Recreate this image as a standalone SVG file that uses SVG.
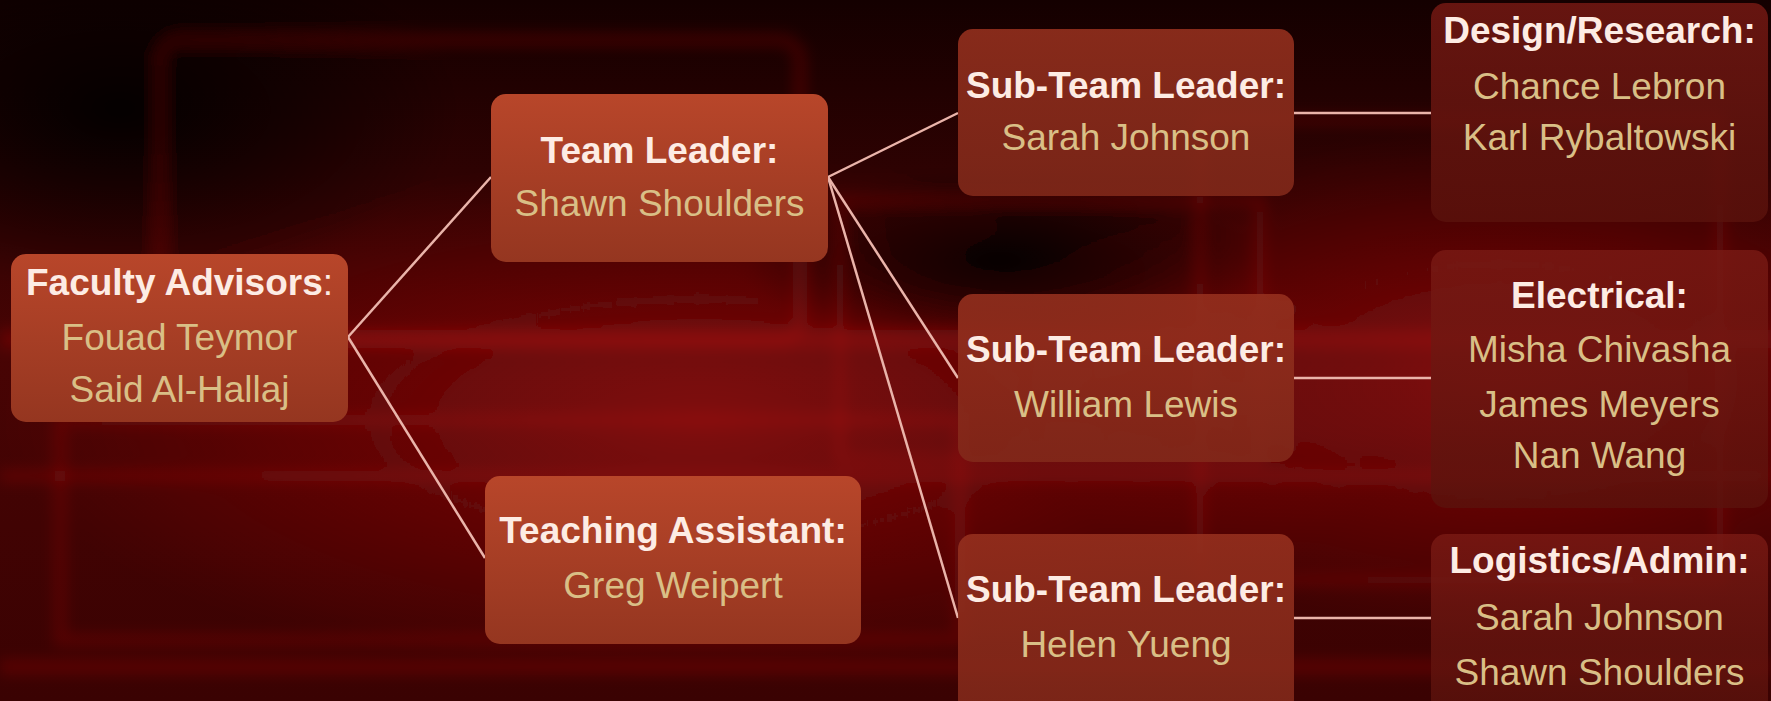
<svg xmlns="http://www.w3.org/2000/svg" width="1771" height="701" viewBox="0 0 1771 701">
<defs>
<linearGradient id="bg" x1="0" y1="0" x2="0" y2="1">
<stop offset="0" stop-color="#140000"/>
<stop offset="0.5" stop-color="#480404"/>
<stop offset="1" stop-color="#3a0202"/>
</linearGradient>
<radialGradient id="glow1" cx="0.5" cy="0.5" r="0.5">
<stop offset="0" stop-color="#a01010" stop-opacity="0.65"/>
<stop offset="1" stop-color="#a01010" stop-opacity="0"/>
</radialGradient>
<radialGradient id="dark1" cx="0.5" cy="0.5" r="0.5">
<stop offset="0" stop-color="#000" stop-opacity="0.9"/>
<stop offset="1" stop-color="#000" stop-opacity="0"/>
</radialGradient>
<linearGradient id="gOrange" x1="0" y1="0" x2="0" y2="1">
<stop offset="0" stop-color="#b8462a"/>
<stop offset="1" stop-color="#953620"/>
</linearGradient>
<linearGradient id="gSub" x1="0" y1="0" x2="0" y2="1">
<stop offset="0" stop-color="#96301e" stop-opacity="0.88"/>
<stop offset="1" stop-color="#82291a" stop-opacity="0.88"/>
</linearGradient>
<linearGradient id="gTeam" x1="0" y1="0" x2="0" y2="1">
<stop offset="0" stop-color="#7a1a14" stop-opacity="0.8"/>
<stop offset="1" stop-color="#5a120c" stop-opacity="0.8"/>
</linearGradient>
<filter id="blur" x="-20%" y="-20%" width="140%" height="140%"><feGaussianBlur stdDeviation="7"/></filter>
</defs>
<style>
.t{font-family:"Liberation Sans",Arial,sans-serif;font-size:37px;font-weight:bold;fill:#fdece4;text-anchor:middle}
.n{font-family:"Liberation Sans",Arial,sans-serif;font-size:37px;fill:#d9bf86;text-anchor:middle}
.c{fill:none;stroke:#eab4aa;stroke-width:2.5}
.bgl{fill:none;stroke:#c01818;stroke-opacity:0.2}
</style>
<rect width="1771" height="701" fill="url(#bg)"/>
<g id="background" filter="url(#blur)">
<ellipse cx="700" cy="420" rx="700" ry="260" fill="url(#glow1)"/>
<ellipse cx="1500" cy="380" rx="500" ry="250" fill="url(#glow1)"/>
<ellipse cx="120" cy="110" rx="340" ry="180" fill="url(#dark1)"/>
<ellipse cx="1000" cy="260" rx="260" ry="90" fill="url(#dark1)"/>
<rect x="160" y="40" width="640" height="300" rx="20" class="bgl" stroke-width="14"/>
<rect x="840" y="200" width="420" height="260" class="bgl" stroke-width="10"/>
<rect x="60" y="420" width="900" height="220" class="bgl" stroke-width="12"/>
<rect x="1200" y="120" width="520" height="460" class="bgl" stroke-width="10"/>
<rect x="0" y="330" width="1771" height="18" fill="#b01010" fill-opacity="0.3"/>
<rect x="0" y="470" width="1771" height="12" fill="#b01010" fill-opacity="0.25"/>
<rect x="0" y="660" width="1771" height="14" fill="#a00c0c" fill-opacity="0.3"/>
</g>
<g id="connectors">
<line class="c" x1="348" y1="337" x2="491" y2="177"/>
<line class="c" x1="348" y1="337" x2="485" y2="558"/>
<line class="c" x1="828" y1="177" x2="958" y2="113"/>
<line class="c" x1="828" y1="177" x2="958" y2="378"/>
<line class="c" x1="828" y1="177" x2="958" y2="618"/>
<line class="c" x1="1294" y1="113" x2="1431" y2="113"/>
<line class="c" x1="1294" y1="378" x2="1431" y2="378"/>
<line class="c" x1="1294" y1="618" x2="1431" y2="618"/>
</g>
<g id="faculty">
<rect x="11" y="254" width="337" height="168" rx="15" fill="url(#gOrange)"/>
<text class="t" x="179.5" y="295">Faculty Advisors<tspan font-weight="normal">:</tspan></text>
<text class="n" x="179.5" y="350">Fouad Teymor</text>
<text class="n" x="179.5" y="402">Said Al-Hallaj</text>
</g>
<g id="team-leader">
<rect x="491" y="94" width="337" height="168" rx="15" fill="url(#gOrange)"/>
<text class="t" x="659.5" y="163">Team Leader:</text>
<text class="n" x="659.5" y="216">Shawn Shoulders</text>
</g>
<g id="teaching-assistant">
<rect x="485" y="476" width="376" height="168" rx="15" fill="url(#gOrange)"/>
<text class="t" x="673" y="543">Teaching Assistant:</text>
<text class="n" x="673" y="598">Greg Weipert</text>
</g>
<g id="sub-leader-1">
<rect x="958" y="29" width="336" height="167" rx="15" fill="url(#gSub)"/>
<text class="t" x="1126" y="98">Sub-Team Leader:</text>
<text class="n" x="1126" y="150">Sarah Johnson</text>
</g>
<g id="sub-leader-2">
<rect x="958" y="294" width="336" height="168" rx="15" fill="url(#gSub)"/>
<text class="t" x="1126" y="362">Sub-Team Leader:</text>
<text class="n" x="1126" y="417">William Lewis</text>
</g>
<g id="sub-leader-3">
<rect x="958" y="534" width="336" height="180" rx="15" fill="url(#gSub)"/>
<text class="t" x="1126" y="602">Sub-Team Leader:</text>
<text class="n" x="1126" y="657">Helen Yueng</text>
</g>
<g id="design-research">
<rect x="1431" y="3" width="337" height="219" rx="15" fill="url(#gTeam)"/>
<text class="t" x="1599.5" y="43">Design/Research:</text>
<text class="n" x="1599.5" y="99">Chance Lebron</text>
<text class="n" x="1599.5" y="150">Karl Rybaltowski</text>
</g>
<g id="electrical">
<rect x="1431" y="250" width="337" height="258" rx="15" fill="url(#gTeam)"/>
<text class="t" x="1599.5" y="308">Electrical:</text>
<text class="n" x="1599.5" y="362">Misha Chivasha</text>
<text class="n" x="1599.5" y="417">James Meyers</text>
<text class="n" x="1599.5" y="468">Nan Wang</text>
</g>
<g id="logistics-admin">
<rect x="1431" y="534" width="337" height="180" rx="15" fill="url(#gTeam)"/>
<text class="t" x="1599.5" y="573">Logistics/Admin:</text>
<text class="n" x="1599.5" y="630">Sarah Johnson</text>
<text class="n" x="1599.5" y="685">Shawn Shoulders</text>
</g>
</svg>
